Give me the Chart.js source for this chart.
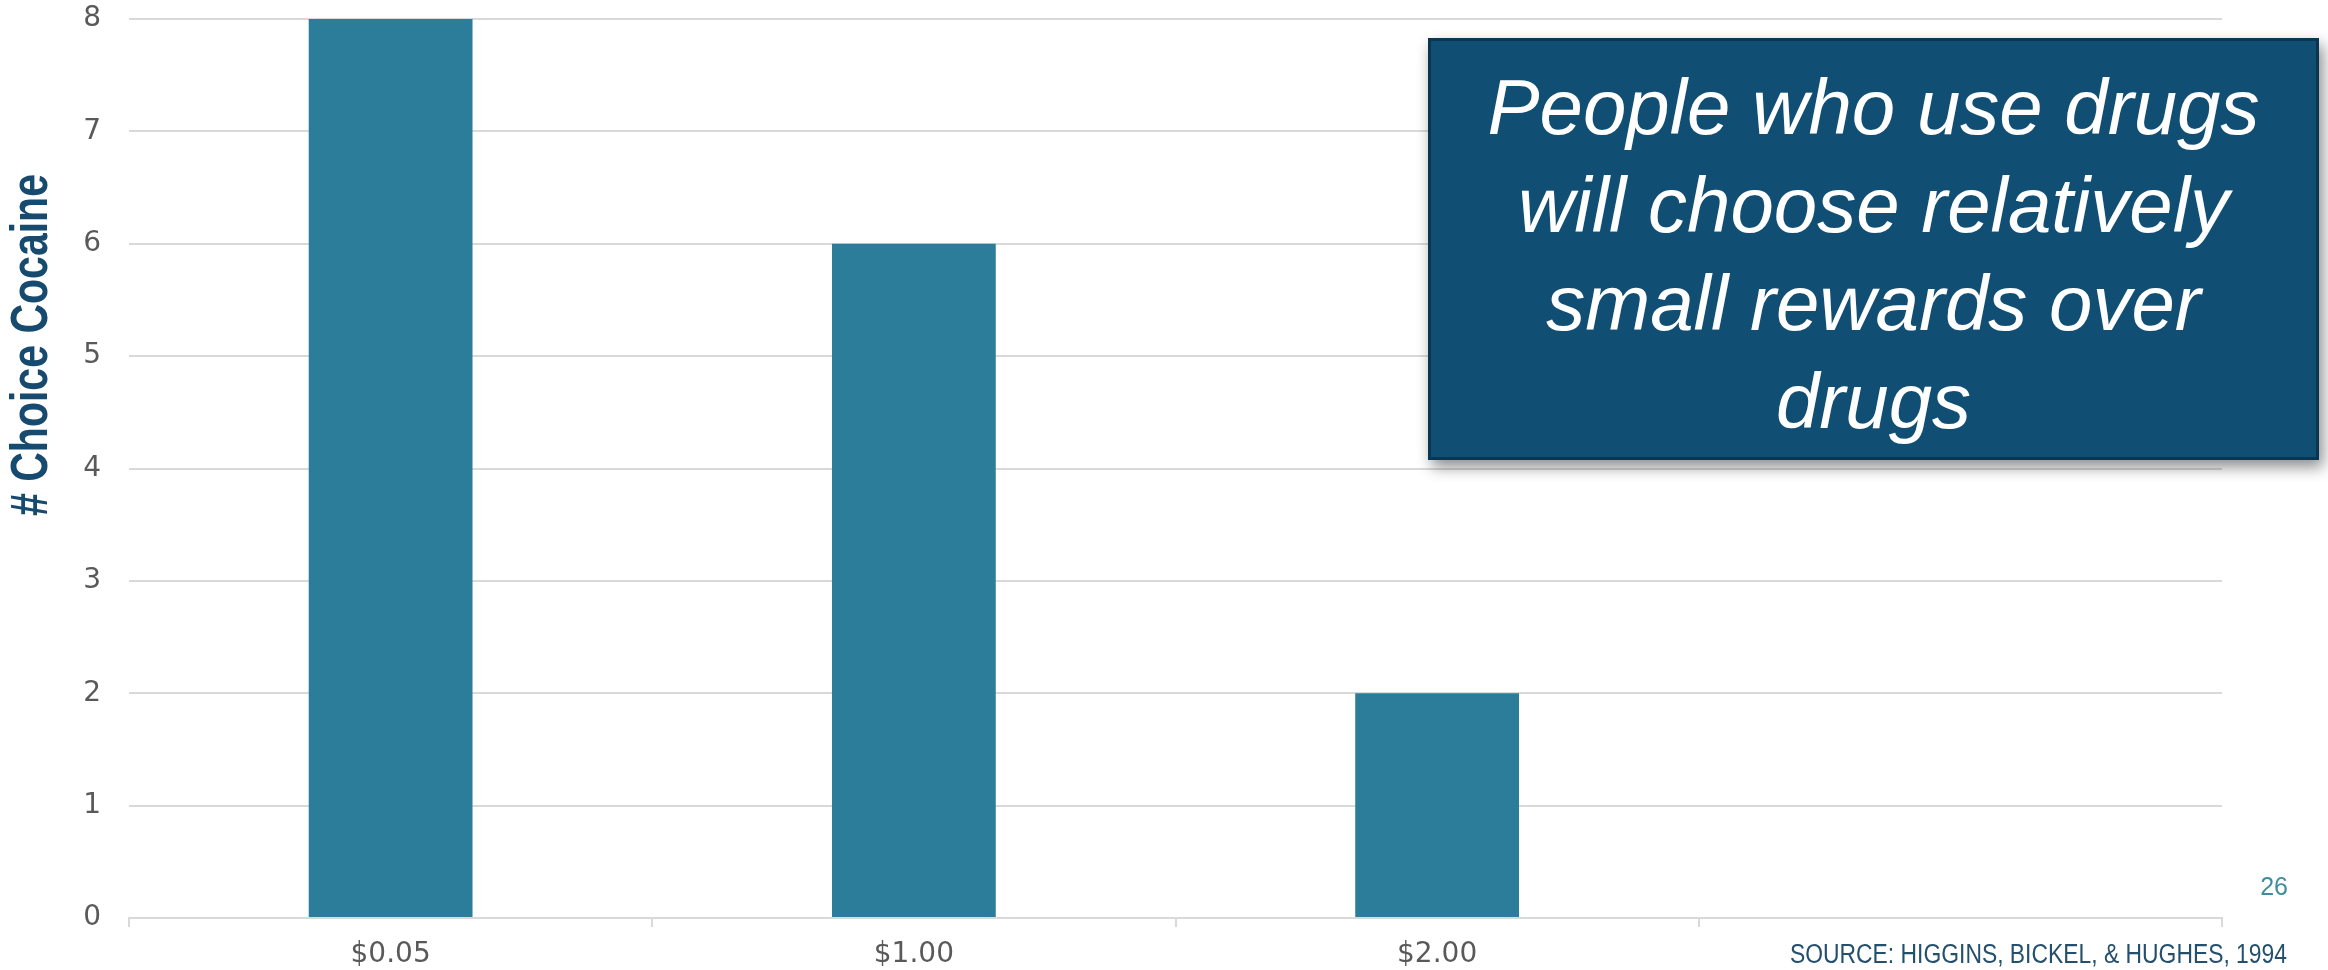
<!DOCTYPE html>
<html lang="en">
<head>
  <meta charset="UTF-8">
  <title># Choice Cocaine</title>
  <script src="https://cdn.jsdelivr.net/npm/chart.js"></script>
  <style>
    body {
      margin: 0;
      background: #ffffff;
    }
    canvas {
      display: block;
    }
  </style>
</head>
<body>
  <canvas id="choiceChart" width="2328" height="970"></canvas>

  <script>
    // values
    const categories = ['$0.05', '$1.00', '$2.00', ''];
    const choiceCounts = [8, 6, 2, null];
    const yTicks = [0, 1, 2, 3, 4, 5, 6, 7, 8];
    const axisTitle = '# Choice Cocaine';
    const calloutLines = ['People who use drugs', 'will choose relatively', 'small rewards over', 'drugs'];
    const sourceNote = 'SOURCE: HIGGINS, BICKEL, & HUGHES, 1994';
    const slideNumber = '26';

    const gridColor = '#d9d9d9';
    const labelColor = '#595959';

    // text boxes that sit on the slide around the chart
    const slideOverlay = {
      id: 'slideOverlay',
      afterDraw: (chart) => {
        const { ctx } = chart;

        // rotated axis title
        ctx.save();
        ctx.translate(33, 345);
        ctx.rotate(-Math.PI / 2);
        ctx.fillStyle = '#164a6e';
        ctx.font = 'bold 52px "Liberation Sans", Arial, sans-serif';
        ctx.textAlign = 'center';
        ctx.textBaseline = 'middle';
        ctx.fillText(axisTitle, 0, 0, 342);
        ctx.restore();

        // callout box
        const bx = 1428, by = 38, bw = 891, bh = 422;
        ctx.save();
        ctx.shadowColor = 'rgba(0, 0, 0, 0.45)';
        ctx.shadowBlur = 14;
        ctx.shadowOffsetX = 4;
        ctx.shadowOffsetY = 7;
        ctx.fillStyle = '#114e73';
        ctx.fillRect(bx, by, bw, bh);
        ctx.restore();

        ctx.save();
        ctx.strokeStyle = '#0a3652';
        ctx.lineWidth = 3;
        ctx.strokeRect(bx + 1.5, by + 1.5, bw - 3, bh - 3);
        ctx.fillStyle = '#ffffff';
        ctx.font = 'italic 78px "Liberation Sans", Arial, sans-serif';
        ctx.textAlign = 'center';
        ctx.textBaseline = 'alphabetic';
        calloutLines.forEach((line, i) => {
          ctx.fillText(line, bx + bw / 2, 134 + i * 98);
        });
        ctx.restore();

        // slide number and source
        ctx.save();
        ctx.textAlign = 'right';
        ctx.textBaseline = 'alphabetic';
        ctx.fillStyle = '#3f8d9e';
        ctx.font = '25px "Liberation Sans", Arial, sans-serif';
        ctx.fillText(slideNumber, 2288, 895);
        ctx.fillStyle = '#24506e';
        ctx.font = '27px "Liberation Sans", Arial, sans-serif';
        ctx.fillText(sourceNote, 2287, 963, 497);
        ctx.restore();
      }
    };

    const ctx = document.getElementById('choiceChart').getContext('2d');

    const choiceChart = new Chart(ctx, {
      type: 'bar',
      data: {
        labels: categories,
        datasets: [{
          label: '# Choice Cocaine',
          data: choiceCounts,
          backgroundColor: '#2b7d99',
          borderWidth: 0,
          barPercentage: 0.313,
          categoryPercentage: 1.0,
        }]
      },
      options: {
        responsive: false,
        animation: false,
        devicePixelRatio: 1,
        layout: {
          padding: { left: 0, right: 106, top: 19, bottom: 0 },
        },
        plugins: {
          legend: { display: false },
          tooltip: { enabled: false },
        },
        scales: {
          x: {
            grid: {
              color: gridColor,
              lineWidth: 2,
              drawOnChartArea: false,
              drawTicks: true,
              tickLength: 9,
            },
            border: { color: gridColor, width: 2 },
            ticks: {
              color: labelColor,
              padding: 11,
              font: { family: '"DejaVu Sans", sans-serif', size: 28 },
            },
            afterFit: (scale) => { scale.height = 52; },
          },
          y: {
            min: yTicks[0],
            max: yTicks[yTicks.length - 1],
            ticks: {
              stepSize: 1,
              color: labelColor,
              padding: 28,
              font: { family: '"DejaVu Sans", sans-serif', size: 28 },
            },
            grid: {
              color: gridColor,
              lineWidth: 2,
              drawTicks: false,
            },
            border: { display: false },
            afterFit: (scale) => {
              scale.width = 129;
              scale.paddingTop = 0;
              scale.paddingBottom = 0;
            },
          },
        },
      },
      plugins: [slideOverlay],
    });
  </script>
</body>
</html>
